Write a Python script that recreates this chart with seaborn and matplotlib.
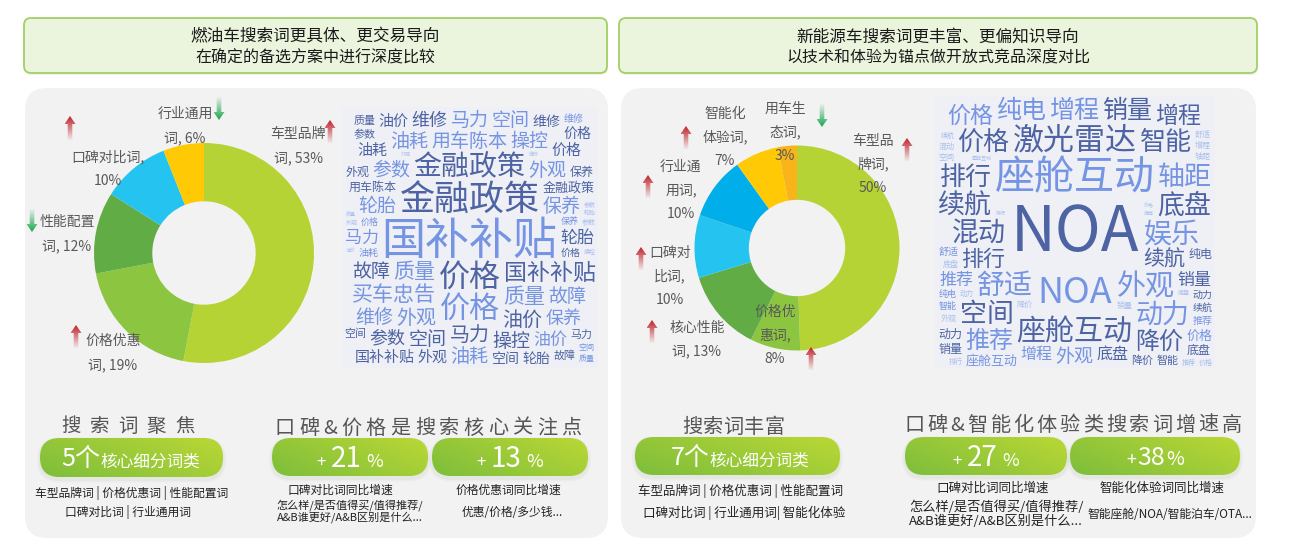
import numpy as np
import matplotlib
matplotlib.use('Agg')
import matplotlib.pyplot as plt
import seaborn as sns
from matplotlib.patches import FancyBboxPatch, Polygon, Rectangle
from matplotlib.colors import to_rgb

sns.set_theme(style='white')
plt.rcParams['font.family'] = ['Noto Sans CJK SC', 'DejaVu Sans']

W, H = 1292, 553

# ---------------- data ----------------
fuel_cats = ['车型品牌词', '价格优惠词', '性能配置词', '口碑对比词', '行业通用词']
fuel_share = [53, 19, 12, 10, 6]
fuel_trend = ['up', 'up', 'down', 'up', 'down']
fuel_colors = ['#b5d334', '#8cc540', '#62ac46', '#25c3ef', '#ffca05']

nev_cats = ['车型品牌词', '价格优惠词', '核心性能词', '口碑对比词', '行业通用词', '智能化体验词', '用车生态词']
nev_share = [50, 8, 13, 10, 10, 7, 3]
nev_trend = ['up', 'up', 'up', 'up', 'up', 'up', 'down']
nev_colors = ['#b5d334', '#8cc540', '#62ac46', '#25c3ef', '#00aee9', '#ffca05', '#f8b419']

fuel_words = ['国补补贴', '金融政策', '价格', '价格', '金融政策', '国补补贴', '外观', '质量', '买车忠告',
              '用车陈本', '质量', '保养', '保养', '轮胎', '外观', '马力', '油价', '维修', '轮胎', '参数',
              '故障', '空间', '操控', '操控', '故障', '油耗', '油耗', '马力', '买车忠告', '维修', '空间',
              '参数', '马力', '油价', '外观', '价格', '油耗', '国补补贴', '油价', '空间', '轮胎', '维修',
              '金融政策', '价格',
              '用车陈本', '保养', '外观', '参数', '买车忠告', '马力', '空间', '故障', '质量', '价格', '油耗',
              '维修', '操控', '轮胎', '参数', '金融政策', '国补补贴', '用车陈本', '买车忠告', '保养', '价格',
              '马力', '油价', '故障', '空间', '质量', '外观', '维修', '操控', '轮胎', '金融政策', '国补补贴',
              '用车陈本', '参数', '保养', '价格', '油耗', '空间', '马力', '故障', '油价', '质量', '维修',
              '外观', '操控', '轮胎', '买车忠告', '金融政策', '国补补贴', '参数', '价格', '保养', '油耗',
              '马力', '空间', '故障', '维修', '外观', '油价', '质量']
fuel_px = [44, 35, 31, 30, 28, 23, 20, 21, 21,
           19, 21, 19, 18, 19, 19, 20, 20, 18, 17, 19,
           19, 19, 19, 19, 19, 19, 19, 19, 18, 19, 19,
           18, 17, 17, 15, 15, 15, 15, 15, 14, 14, 14,
           13, 14,
           12, 12, 12, 11, 11, 11, 11, 11, 11, 10, 10,
           10, 10, 10, 10, 9, 9, 9, 9, 9, 9,
           9, 9, 9, 8, 8, 8, 8, 8, 8, 8, 8,
           8, 7, 7, 7, 7, 7, 7, 7, 7, 7, 7,
           6, 6, 6, 6, 6, 6, 6, 6, 6, 6,
           6, 6, 6, 5, 5, 5, 5]
fuel_tone = ['m', 'd', 'd', 'm', 'd', 'd', 'm', 'm', 'm',
             'm', 'm', 'm', 'm', 'm', 'm', 'd', 'd', 'd', 'd', 'm',
             'd', 'd', 'd', 'm', 'm', 'm', 'm', 'm', 'm', 'm', 'm',
             'd', 'm', 'm', 'd', 'd', 'd', 'd', 'd', 'd', 'd', 'd',
             'd', 'd',
             'd', 'd', 'd', 'd', 'm', 'd', 'd', 'd', 'd', 'd', 'm',
             'm', 'm', 'd', 'd', 'd', 'm', 'd', 'd', 'm', 'm',
             'm', 'm', 'm', 'm', 'm', 'm', 'm', 'l', 'l', 'l', 'l',
             'l', 'l', 'l', 'l', 'l', 'l', 'l', 'l', 'l', 'l', 'l',
             'l', 'l', 'l', 'l', 'l', 'l', 'l', 'l', 'l', 'l',
             'l', 'l', 'l', 'l', 'l', 'l', 'l']

nev_words = ['NOA', '座舱互动', 'NOA', '激光雷达', '外观', '座舱互动', '舒适', '娱乐', '混动', '底盘',
             '续航', '空间', '动力', '轴距', '排行', '智能', '价格', '增程', '销量', '纯电', '推荐',
             '降价', '增程', '排行', '价格', '充电体验', '续航', '激光雷达', '外观', '纯电', '降价', '混动',
             '推荐', '底盘', '销量', '增程', '激光雷达', '空间', '动力', '混动', '续航', '轴距', '充电体验',
             '排行', '座舱互动', '娱乐', '空间', '外观', '推荐', '智能', '舒适', '价格',
             '纯电', 'NOA', '动力', '销量', '底盘', '降价', '智能', '轴距', '混动', '空间', '外观', '增程',
             '舒适', '动力', '续航', '推荐', '排行', '价格', '娱乐', '充电体验', '激光雷达', '座舱互动',
             'NOA', '纯电', '智能', '降价', '销量', '底盘', '轴距', '空间', '外观', '增程', '混动', '舒适',
             '动力', '续航', '推荐', '排行', '价格', '娱乐', '纯电', '智能', 'NOA', '降价', '销量', '底盘',
             '轴距', '空间', '外观', '增程', '混动', '舒适', '动力', '续航', '充电体验', '激光雷达',
             '座舱互动', '推荐', '排行', '价格']
nev_px = [62, 40, 36, 31, 29, 29, 28, 28, 27, 27,
          27, 27, 27, 27, 26, 26, 26, 25, 25, 25, 24,
          24, 23, 22, 23, 22, 21, 18, 19, 19, 19, 19,
          17, 16, 17, 16, 15, 15, 14, 14, 14, 14, 14,
          14, 13, 14, 14, 14, 14, 14, 14, 13,
          12, 12, 12, 12, 12, 11, 11, 11, 11, 11, 11, 11,
          10, 10, 10, 10, 10, 10, 10, 9, 9, 9,
          9, 9, 9, 8, 8, 8, 8, 8, 8, 8, 8, 8,
          7, 7, 7, 7, 7, 7, 7, 7, 7, 7, 7, 6,
          6, 6, 6, 6, 6, 6, 6, 6, 6, 6,
          5, 5, 5, 5]
nev_tone = ['d', 'm', 'm', 'd', 'm', 'd', 'm', 'm', 'd', 'd',
            'd', 'd', 'm', 'm', 'd', 'd', 'd', 'm', 'd', 'm', 'm',
            'd', 'd', 'd', 'm', 'm', 'd', 'd', 'm', 'd', 'd', 'd',
            'm', 'd', 'd', 'm', 'm', 'd', 'd', 'm', 'm', 'm', 'd',
            'm', 'm', 'm', 'd', 'd', 'm', 'd', 'm', 'm',
            'd', 'd', 'd', 'd', 'd', 'd', 'd', 'm', 'm', 'm', 'm', 'm',
            'm', 'd', 'd', 'm', 'm', 'm', 'm', 'd', 'm', 'm',
            'm', 'm', 'm', 'l', 'l', 'l', 'l', 'l', 'l', 'l', 'l', 'l',
            'l', 'l', 'l', 'l', 'l', 'l', 'l', 'l', 'l', 'l', 'l', 'l',
            'l', 'l', 'l', 'l', 'l', 'l', 'l', 'l', 'l', 'l',
            'l', 'l', 'l', 'l']
tone_color = {'d': '#4d63a4', 'm': '#7594e3', 'l': '#a9bdf0'}

headers = [['燃油车搜索词更具体、更交易导向', '在确定的备选方案中进行深度比较'],
           ['新能源车搜索词更丰富、更偏知识导向', '以技术和体验为锚点做开放式竞品深度对比']]
focus_titles = ['搜索词聚焦', '搜索词丰富']
focus_counts = ['5', '7']
focus_lines = [['车型品牌词 | 价格优惠词 | 性能配置词', '口碑对比词 | 行业通用词'],
               ['车型品牌词 | 价格优惠词 | 性能配置词', '口碑对比词 | 行业通用词| 智能化体验']]
growth_titles = ['口碑&价格是搜索核心关注点', '口碑&智能化体验类搜索词增速高']
growth_values = [['21', '13'], ['27', '38']]
growth_names = [['口碑对比词同比增速', '价格优惠词同比增速'], ['口碑对比词同比增速', '智能化体验词同比增速']]
growth_examples = [[['怎么样/是否值得买/值得推荐/', 'A&B谁更好/A&B区别是什么...'], ['优惠/价格/多少钱...']],
                   [['怎么样/是否值得买/值得推荐/', 'A&B谁更好/A&B区别是什么...'], ['智能座舱/NOA/智能泊车/OTA...']]]

# ---------------- layout (pixels) ----------------
fuel_donut = dict(cx=204, cy=253, r=110, width=0.53)
nev_donut = dict(cx=797, cy=248, r=102.5, width=0.53)
fuel_label_xy = [(298, 145), (113, 352), (67, 233), (108, 168), (185, 125)]
fuel_wrap = [4, 4, 4, 5, 4]
fuel_arrow_xy = [(330, 120, 143), (76, 325, 348), (32, 209, 232), (70, 116, 140), (219, 97, 120)]
nev_label_xy = [(873, 163), (775, 334), (697, 338), (670, 275), (681, 189), (725, 136), (785, 131)]
nev_wrap = [3, 3, 4, 3, 3, 3, 3]
nev_arrow_xy = [(907, 138, 161), (811, 347, 370), (652, 320, 343), (641, 247, 270), (648, 175, 198),
                (686, 126, 149), (822, 104, 127)]

fig = plt.figure(figsize=(W / 100, H / 100), dpi=100)
fig.patch.set_facecolor('white')
renderer = fig.canvas.get_renderer()


def px_axes(rect=(0, 0, 1, 1)):
    a = fig.add_axes(rect, facecolor='none')
    a.set_xlim(0, W)
    a.set_ylim(H, 0)
    a.axis('off')
    return a


bg = px_axes()


def rbox(ax, x, y, w, h, r, **kw):
    p = FancyBboxPatch((x, y), w, h, boxstyle=f'round,pad=0,rounding_size={r}', **kw)
    ax.add_patch(p)
    return p


# headers and panels
for (x0, x1), lines in zip([(24, 607), (619, 1257)], headers):
    rbox(bg, x0 + 1, 20, x1 - x0, 55, 7, fc='#dfe6d6', ec='none', alpha=0.5, zorder=1)
    rbox(bg, x0, 18, x1 - x0, 55, 7, fc='#ebf5de', ec='#a2cf66', lw=1.3, zorder=2)
    bg.text((x0 + x1) / 2, 37, lines[0], fontsize=12, color='#1a1a1a', ha='center', va='center', zorder=3)
    bg.text((x0 + x1) / 2, 58, lines[1], fontsize=11.5, color='#1a1a1a', ha='center', va='center', zorder=3)

for x0, x1 in [(25, 608), (621, 1256)]:
    rbox(bg, x0, 88, x1 - x0, 450, 22, fc='#f2f2f2', ec='none', zorder=1)

bg.add_patch(Rectangle((342, 107), 256, 261, fc='#eef0f5', ec='none', zorder=2))
bg.add_patch(Rectangle((935, 95), 280, 273, fc='#eef0f5', ec='none', zorder=2))


# donuts
def donut(d, share, colors):
    r = d['r']
    pax = fig.add_axes([(d['cx'] - r) / W, 1 - (d['cy'] + r) / H, 2 * r / W, 2 * r / H], facecolor='none')
    pax.pie(share, colors=colors, startangle=90, counterclock=False, radius=1,
            wedgeprops=dict(width=d['width'], edgecolor='none'))
    pax.set_xlim(-1, 1)
    pax.set_ylim(-1, 1)
    pax.axis('off')


donut(fuel_donut, fuel_share, fuel_colors)
donut(nev_donut, nev_share, nev_colors)

fg = px_axes()


def wrap_label(name, pct, n):
    chunks = [name[i:i + n] for i in range(0, len(name), n)]
    chunks[-1] += ','
    if len(chunks[-1]) <= 2:
        chunks[-1] += f' {pct}%'
    else:
        chunks.append(f'{pct}%')
    return chunks


def draw_label(ax, xy, lines, pt=10, ls=24):
    s = pt / 0.72
    n = len(lines)
    for i, ln in enumerate(lines):
        yc = xy[1] + (i - (n - 1) / 2) * ls
        ax.text(xy[0], yc + 0.38 * s, ln, fontsize=pt, color='#595959', ha='center', va='baseline', zorder=6)


def trend_arrow(ax, x, y0, y1, up):
    hw, sw, hl = 5.5, 2.3, 8
    if up:
        pts = [(x, y0), (x + hw, y0 + hl), (x + sw, y0 + hl), (x + sw, y1), (x - sw, y1), (x - sw, y0 + hl), (x - hw, y0 + hl)]
        col, alpha = '#c0232b', np.linspace(1, 0.05, 40)
    else:
        pts = [(x, y1), (x + hw, y1 - hl), (x + sw, y1 - hl), (x + sw, y0), (x - sw, y0), (x - sw, y1 - hl), (x - hw, y1 - hl)]
        col, alpha = '#1ba64f', np.linspace(0.05, 1, 40)
    poly = Polygon(pts, closed=True, fc='none', ec='none')
    ax.add_patch(poly)
    img = np.zeros((40, 1, 4))
    img[..., :3] = to_rgb(col)
    img[:, 0, 3] = alpha
    im = ax.imshow(img, extent=(x - hw, x + hw, y1, y0), origin='upper', aspect='auto',
                   interpolation='bilinear', zorder=7)
    im.set_clip_path(poly)


for cat, v, tr, xy, n, ar in zip(fuel_cats, fuel_share, fuel_trend, fuel_label_xy, fuel_wrap, fuel_arrow_xy):
    draw_label(fg, xy, wrap_label(cat, v, n), ls=24)
    trend_arrow(fg, ar[0], ar[1], ar[2], tr == 'up')
for cat, v, tr, xy, n, ar in zip(nev_cats, nev_share, nev_trend, nev_label_xy, nev_wrap, nev_arrow_xy):
    draw_label(fg, xy, wrap_label(cat, v, n), ls=23.5)
    trend_arrow(fg, ar[0], ar[1], ar[2], tr == 'up')


# word clouds: greedy packing closest to centre on an occupancy grid
def word_cloud(ax, words, sizes, tones, box):
    x0, y0, x1, y1 = box
    wc, hc = x1 - x0, y1 - y0
    occ = np.zeros((hc, wc), dtype=np.int32)
    order = sorted(range(len(words)), key=lambda i: -sizes[i])
    for i in order:
        s = sizes[i]
        pt = s * 0.72
        t = ax.text(0, 0, words[i], fontsize=pt, color=tone_color[tones[i]], ha='center', va='baseline', zorder=5)
        tw = t.get_window_extent(renderer).width
        latin = not any(ord(c) > 255 for c in words[i])
        # latin words keep room for the line's ascent and descent
        ink_h, base_off = (1.15 * s, 0.31 * s) if latin else (0.92 * s, 0.38 * s)
        bw = int(np.ceil(tw)) + (6 if latin else 3)
        bh = int(np.ceil(ink_h)) + 3
        if bw >= wc or bh >= hc:
            t.remove()
            continue
        ii = np.zeros((hc + 1, wc + 1), dtype=np.int64)
        ii[1:, 1:] = occ.cumsum(0).cumsum(1)
        S = ii[bh:, bw:] - ii[:-bh, bw:] - ii[bh:, :-bw] + ii[:-bh, :-bw]
        ys, xs = np.nonzero(S == 0)
        if len(ys) == 0:
            t.remove()
            continue
        ccx = xs + bw / 2 - wc / 2
        ccy = ys + bh / 2 - hc / 2
        dist = (ccx / wc) ** 2 + (ccy / hc) ** 2 + 0.002 * ccy / hc + 1e-6 * xs
        k = int(np.argmin(dist))
        occ[ys[k]:ys[k] + bh, xs[k]:xs[k] + bw] = 1
        cx = x0 + xs[k] + bw / 2
        cy = y0 + ys[k] + bh / 2
        t.set_position((cx, cy + base_off))


word_cloud(fg, fuel_words, fuel_px, fuel_tone, (343, 108, 597, 366))
word_cloud(fg, nev_words, nev_px, nev_tone, (936, 96, 1214, 367))


# bottom section helpers
def tracked(ax, xc, yc, s, pt, track, color='#555555'):
    px = pt / 0.72
    ts = [ax.text(0, 0, ch, fontsize=pt, color=color, ha='left', va='baseline', zorder=6) for ch in s]
    ws = [t.get_window_extent(renderer).width for t in ts]
    x = xc - (sum(ws) + track * (len(s) - 1)) / 2
    for t, w in zip(ts, ws):
        t.set_position((x, yc + 0.38 * px))
        x += w + track


def runs(ax, xc, yc, parts, gap, color='white'):
    ts = [ax.text(0, 0, s, fontsize=pt, color=color, ha='left', va='baseline', zorder=6) for s, pt in parts]
    ws = [t.get_window_extent(renderer).width for t in ts]
    big = max(pt for _, pt in parts) / 0.72
    x = xc - (sum(ws) + gap * (len(ts) - 1)) / 2
    for t, w in zip(ts, ws):
        t.set_position((x, yc + 0.37 * big))
        x += w + gap


def pill(ax, x, y, w, h):
    for k, a in [(3, 0.05), (1.5, 0.07)]:
        rbox(ax, x - k, y - k + 2.5, w + 2 * k, h + 2 * k, h / 2 + k, fc='#8a9a70', ec='none', alpha=a, zorder=3)
    p = rbox(ax, x, y, w, h, h / 2, fc='none', ec='none', zorder=4)
    gx = np.linspace(0, 1, 96)[None, :]
    gy = np.linspace(0, 1, 24)[:, None]
    t = np.clip(0.72 * gx + 0.38 * (1 - gy) - 0.05, 0, 1)
    c0, c1 = np.array(to_rgb('#80bf3b')), np.array(to_rgb('#b7d635'))
    img = c0 + (c1 - c0) * t[..., None]
    im = ax.imshow(img, extent=(x, x + w, y + h, y), origin='upper', aspect='auto',
                   interpolation='bilinear', zorder=4)
    im.set_clip_path(p)


def sub(ax, x, y, s, pt):
    ax.text(x, y, s, fontsize=pt, color='#222222', ha='center', va='center', zorder=6)


# left bottom
tracked(fg, 128, 425, focus_titles[0], 14, 9)
pill(fg, 40, 438, 183, 39)
runs(fg, 131, 457, [(focus_counts[0] + '个', 18), ('核心细分词类', 12)], 0)
sub(fg, 132, 493, focus_lines[0][0], 8.5)
sub(fg, 128, 512, focus_lines[0][1], 8.5)

tracked(fg, 428, 426, growth_titles[0], 14.5, 4.3)
for i, (x0, x1) in enumerate([(272, 428), (432, 588)]):
    pill(fg, x0, 438, x1 - x0, 38)
    runs(fg, (x0 + x1) / 2, 457, [('+', 12), (growth_values[0][i], 20), ('%', 13)], 5)
sub(fg, 340, 490, growth_names[0][0], 8.5)
sub(fg, 350, 505, growth_examples[0][0][0], 8)
sub(fg, 350, 517, growth_examples[0][0][1], 8)
sub(fg, 508, 490, growth_names[0][1], 8.5)
sub(fg, 512, 512, growth_examples[0][1][0], 8.5)

# right bottom
tracked(fg, 733, 425, focus_titles[1], 14.5, 0.5)
pill(fg, 635, 437, 205, 38)
runs(fg, 740, 456, [(focus_counts[1] + '个', 18), ('核心细分词类', 12)], 0)
sub(fg, 741, 491, focus_lines[1][0], 9)
sub(fg, 744, 513, focus_lines[1][1], 9)

tracked(fg, 1073, 423, growth_titles[1], 14.5, 3)
for i, (x0, x1) in enumerate([(905, 1067), (1070, 1240)]):
    pill(fg, x0, 437, x1 - x0, 38)
    if i == 0:
        runs(fg, (x0 + x1) / 2, 456, [('+', 12), (growth_values[1][i], 20), ('%', 13)], 5)
    else:
        runs(fg, (x0 + x1) / 2, 456, [('+', 13), (growth_values[1][i], 18), ('%', 14)], 1)
sub(fg, 993, 488, growth_names[1][0], 9)
sub(fg, 996, 507, growth_examples[1][0][0], 9.5)
sub(fg, 996, 521, growth_examples[1][0][1], 9.5)
sub(fg, 1162, 488, growth_names[1][1], 9)
sub(fg, 1170, 515, growth_examples[1][1][0], 8.5)

fig.savefig('out.png', dpi=100, facecolor='white')
